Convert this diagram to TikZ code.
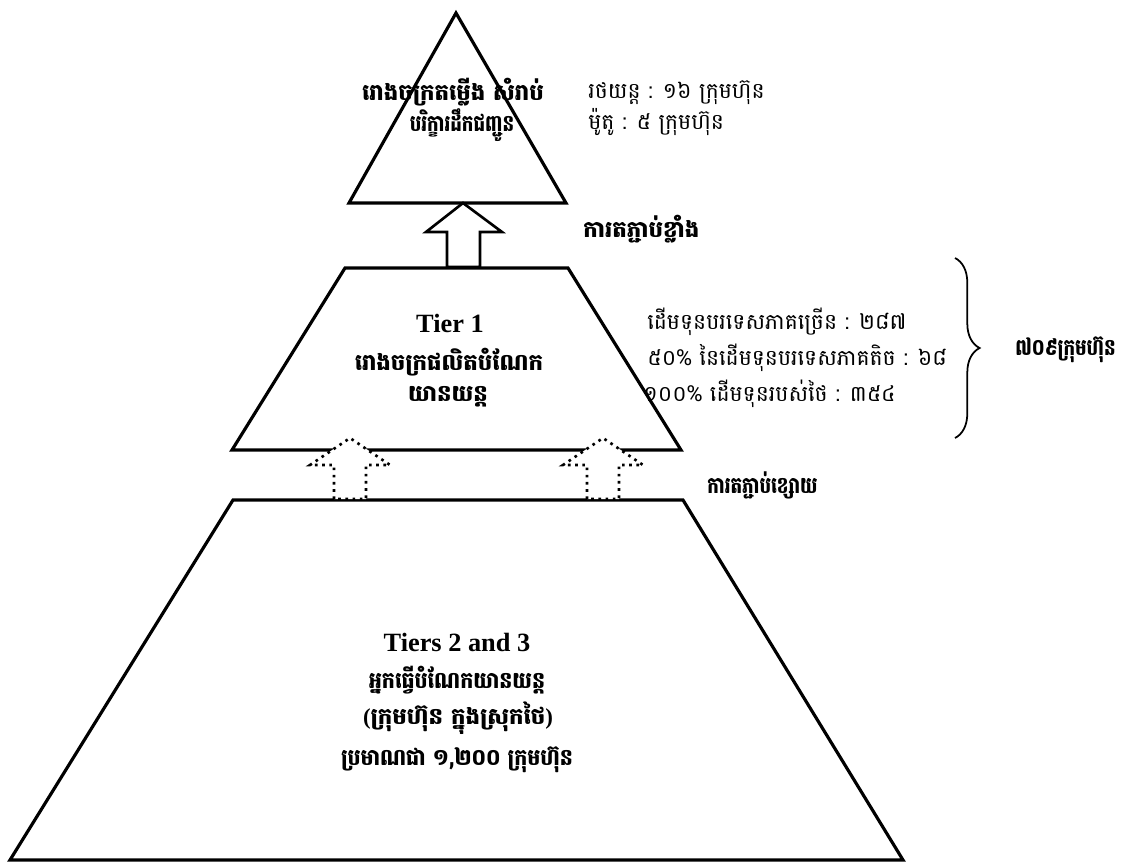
\documentclass[tikz,border=0pt]{standalone}
\usepackage{fontspec}
\setmainfont{Liberation Serif}
\newfontfamily\khmer[Script=Khmer]{Battambang}
\usetikzlibrary{decorations.pathreplacing}
\newcommand{\narrow}[1]{\scalebox{0.8}[1]{#1}}

\begin{document}
\begin{tikzpicture}[
  x=0.02cm,y=-0.02cm,
  line join=miter,
  tier/.style={draw,line width=1.8pt,fill=white},
  bigarrow/.style={draw,line width=1.5pt,fill=white},
  weakarrow/.style={draw,line width=1.5pt,fill=white,
    dash pattern=on 1.5pt off 2.6pt},
  tiername/.style={font=\fontsize{15}{17}\selectfont\bfseries,inner sep=0pt},
  kbold/.style={font=\khmer\fontsize{13}{15}\selectfont\bfseries,inner sep=0pt},
  kinfo/.style={font=\khmer\fontsize{12.5}{15}\selectfont,inner sep=0pt,anchor=west}
]
\useasboundingbox (0,0) rectangle (1130,863);

% Three levels of the pyramid, bottom first.
\draw[tier] (233,500) -- (683,500) -- (903,860) -- (10,860) -- cycle;
\draw[tier] (345,268) -- (568,268) -- (681,450) -- (232,450) -- cycle;
\draw[tier] (456,13) -- (566,203) -- (349,203) -- cycle;

% Weak links: dotted block arrows between tiers 2/3 and tier 1.
\foreach \c in {350,603}
  \draw[weakarrow] (\c-16,499) -- (\c-16,465) -- (\c-40,465) -- (\c,438)
    -- (\c+40,465) -- (\c+16,465) -- (\c+16,499) -- cycle;

% Strong link: solid block arrow between tier 1 and the assemblers.
\draw[bigarrow] (447,267) -- (447,232) -- (426,232) -- (463,203)
  -- (502,232) -- (480,232) -- (480,267) -- cycle;

% Assemblers
\node[kbold] (topA) at (453,92) {រោងចក្រតម្លើង សំរាប់};
\node[kbold] (topB) at (462,125) {\narrow{បរិក្ខារដឹកជញ្ជូន}};
\node[kinfo] (carA) at (588,93) {រថយន្ត : ១៦ ក្រុមហ៊ុន};
\node[kinfo] (carB) at (588,122) {ម៉ូតូ : ៥ ក្រុមហ៊ុន};
\node[kbold,anchor=west] (strong) at (583,229) {ការតភ្ជាប់ខ្លាំង};

% Tier 1
\node[tiername] (t1) at (450,323) {Tier 1};
\node[kbold] (t1a) at (449,362) {រោងចក្រផលិតបំណែក};
\node[kbold] (t1b) at (448,397) {យានយន្ត};
\node[kinfo] (infoA) at (647,322) {ដើមទុនបរទេសភាគច្រើន : ២៨៧};
\node[kinfo] (infoB) at (647,358) {៥០\% នៃដើមទុនបរទេសភាគតិច : ៦៨};
\node[kinfo] (infoC) at (643,394) {១០០\% ដើមទុនរបស់ថៃ : ៣៥៤};
\draw[line width=1pt,decorate,decoration={brace,amplitude=14pt}]
  (955,258) -- (955,438) coordinate[midway] (bmid);
\node[kbold,anchor=west] (total) at (1015,350) {\narrow{៧០៩ក្រុមហ៊ុន}};
\node[kbold,anchor=west] (weak) at (707,485) {\narrow{ការតភ្ជាប់ខ្សោយ}};

% Tiers 2 and 3
\node[tiername] (t23) at (457,642) {Tiers 2 and 3};
\node[kbold] (t23a) at (457,680) {\scalebox{0.9}[1]{អ្នកធ្វើបំណែកយានយន្ត}};
\node[kbold] (t23b) at (458,718) {{\rmfamily(}ក្រុមហ៊ុន ក្នុងស្រុកថៃ{\rmfamily)}};
\node[kbold] (t23c) at (457,760) {\scalebox{0.9}[1]{ប្រមាណជា ១,២០០ ក្រុមហ៊ុន}};

\end{tikzpicture}
\end{document}
